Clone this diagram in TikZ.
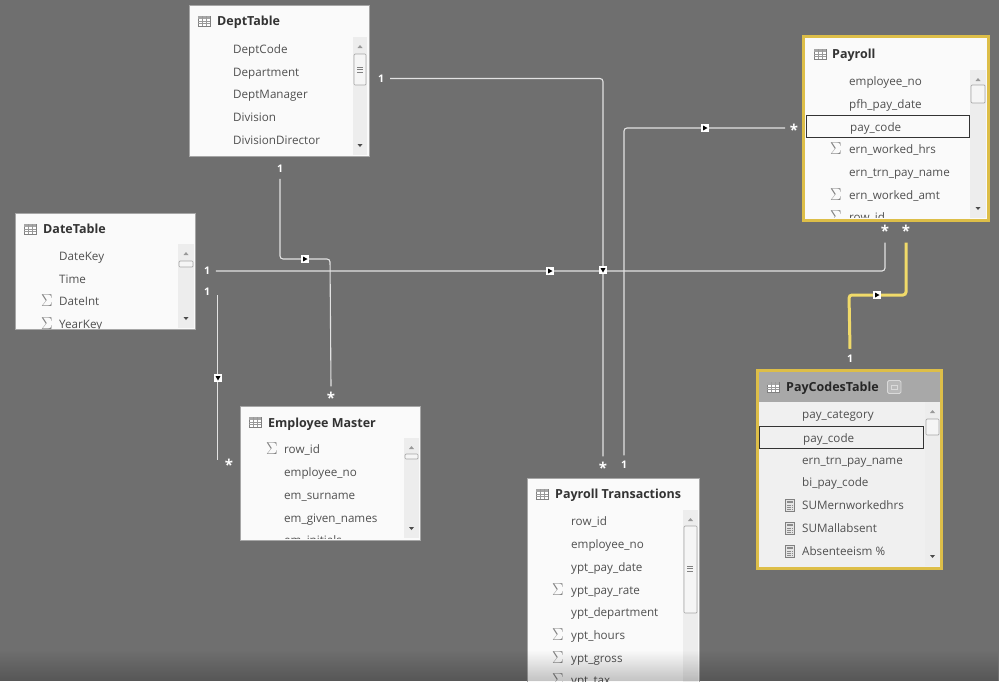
\documentclass[tikz,border=0pt]{standalone}
\usepackage{fontspec}
\setmainfont{Open Sans}
\usepackage{tikz}
\usetikzlibrary{fadings}

\definecolor{canvasgray}{HTML}{6F6F6F}
\definecolor{relwhite}{HTML}{E2E2E2}
\definecolor{relgold}{HTML}{F0DA6A}
\definecolor{activegold}{HTML}{DDBE48}
\definecolor{fieldtext}{HTML}{505050}

\tikzset{
    tablebox/.style={draw=gray!70, fill=white!98!black, line width=0.6pt},
    activebox/.style={draw=activegold, fill=white!98!black, line width=3pt},
    tabletitle/.style={anchor=base west, yshift=-4.5pt, font=\fontsize{12.5}{14}\selectfont\bfseries, text=black!80, inner sep=0pt},
    fieldrow/.style={anchor=base west, yshift=-4.5pt, font=\fontsize{11.65}{14}\selectfont, text=fieldtext, inner sep=0pt},
    sumsign/.style={font=\fontsize{17}{17}\selectfont, text=gray, inner sep=0pt},
    cardmark/.style={font=\fontsize{10.5}{10.5}\selectfont\bfseries, text=white, inner sep=0pt, outer sep=6pt},
    manymark/.style={cardmark, font=\fontsize{15}{15}\selectfont\bfseries, yshift=-3.5pt},
    relline/.style={draw=relwhite, line width=1.1pt, rounded corners=3pt},
    activeline/.style={draw=relgold, line width=3pt, rounded corners=3pt},
    flowright/.style={fill=white, minimum size=8pt, inner sep=0pt, path picture={
        \fill[black, shift={(path picture bounding box.center)}] (-2,-2.5) -- (2.5,0) -- (-2,2.5) -- cycle;}},
    flowdown/.style={fill=white, minimum size=8pt, inner sep=0pt, path picture={
        \fill[black, shift={(path picture bounding box.center)}] (-2.5,-2) -- (2.5,-2) -- (0,2.5) -- cycle;}},
    pickedrow/.style={draw=black!80, line width=0.8pt},
}

\newcommand{\tableicon}[2]{
    \draw[gray, line width=0.5pt, fill=white] (#1-6,#2-5) rectangle (#1+6,#2+5);
    \fill[gray!70] (#1-6,#2-5) rectangle (#1+6,#2-2.5);
    \foreach \dx in {-2,2} {\draw[gray!80, line width=0.4pt] (#1+\dx,#2-5) -- (#1+\dx,#2+5);}
    \foreach \dy in {0,2.5} {\draw[gray!80, line width=0.4pt] (#1-6,#2+\dy) -- (#1+6,#2+\dy);}
}
\newcommand{\calcicon}[2]{
    \draw[gray, line width=0.6pt, fill=gray!20] (#1-4.5,#2-6) rectangle (#1+4.5,#2+6);
    \fill[gray!90] (#1-3,#2-4.5) rectangle (#1+3,#2-2);
    \foreach \dy in {0,2,4} {\draw[gray!90, line width=1pt, dash pattern=on 1.5pt off 0.8pt] (#1-3,#2+\dy) -- (#1+3,#2+\dy);}
}
% x1, x2, top, bottom, thumb top, thumb bottom
\newcommand{\scrollbar}[6]{
    \fill[gray!14] (#1,#3) rectangle (#2,#4);
    \draw[gray!70, fill=gray!8, line width=0.7pt, rounded corners=1pt] (#1+1,#5) rectangle (#2-1,#6);
    \fill[gray!80] ({(#1+#2)/2-2.5},#3+11) -- ({(#1+#2)/2+2.5},#3+11) -- ({(#1+#2)/2},#3+8) -- cycle;
    \fill[black!70] ({(#1+#2)/2-2.5},#4-11) -- ({(#1+#2)/2+2.5},#4-11) -- ({(#1+#2)/2},#4-8) -- cycle;
}

\begin{document}
\begin{tikzpicture}[x=1pt,y=-1pt]
    \useasboundingbox (0,0) rectangle (999,681);
    \fill[canvasgray] (0,0) rectangle (999,681);

    % DeptTable
    \path[tablebox] (189,5.5) rectangle (369,156);
    \tableicon{204}{21}
    \node[tabletitle] (depttitle) at (217,21) {DeptTable};
    \foreach \y/\name in {49/DeptCode,72/Department,94/DeptManager,117/Division,140/DivisionDirector} {
        \node[fieldrow] (dept-\y) at (233,\y) {\name};
    }
    \scrollbar{353}{367}{37}{155}{54}{85}
    \foreach \y in {67,69.5,72} {\draw[gray, line width=0.6pt] (357,\y) -- (363,\y);}

    % DateTable
    \path[tablebox] (15,213) rectangle (195,329.5);
    \tableicon{30}{229}
    \node[tabletitle] (datetitle) at (43,229) {DateTable};
    \begin{scope}
        \clip (16,214) rectangle (194,328);
        \foreach \y/\name in {256/DateKey,279/Time,301/DateInt,324/YearKey} {
            \node[fieldrow] (date-\y) at (59,\y) {\name};
        }
        \foreach \y in {301,324} {\node[sumsign] (datesum-\y) at (47,\y) {$\Sigma$};}
    \end{scope}
    \scrollbar{178}{194}{244}{328}{261}{267}

    % Employee Master
    \path[tablebox] (240.5,406) rectangle (420.5,540);
    \tableicon{255}{422}
    \node[tabletitle] (emptitle) at (268,423) {Employee Master};
    \begin{scope}
        \clip (242,407) rectangle (420,538);
        \foreach \y/\name in {449/row\_id,472/employee\_no,495/em\_surname,518/em\_given\_names,540/em\_initials} {
            \node[fieldrow] (emp-\y) at (284,\y) {\name};
        }
        \node[sumsign] (empsum) at (272,449) {$\Sigma$};
    \end{scope}
    \scrollbar{404}{419}{438}{538}{454}{459}

    % Payroll Transactions
    \path[tablebox] (527.5,478) rectangle (699,700);
    \tableicon{542}{494}
    \node[tabletitle] (transtitle) at (555,494) {Payroll Transactions};
    \foreach \y/\name in {521/row\_id,544/employee\_no,567/ypt\_pay\_date,590/ypt\_pay\_rate,612/ypt\_department,635/ypt\_hours,658/ypt\_gross,680/ypt\_tax} {
        \node[fieldrow] (trans-\y) at (571,\y) {\name};
    }
    \foreach \y in {590,635,658,680} {\node[sumsign] (transsum-\y) at (558,\y) {$\Sigma$};}
    \scrollbar{683}{698}{510}{700}{526}{613}
    \foreach \y in {566,568.5,571} {\draw[gray, line width=0.6pt] (687,\y) -- (693,\y);}

    % Payroll
    \path[activebox] (803.5,36.5) rectangle (988.5,220.5);
    \tableicon{820}{54}
    \node[tabletitle] (paytitle) at (832,54) {Payroll};
    \begin{scope}
        \clip (806,39) rectangle (986,217.5);
        \foreach \y/\name in {81/employee\_no,104/pfh\_pay\_date,149/ern\_worked\_hrs,172/ern\_trn\_pay\_name,195/ern\_worked\_amt,217/row\_id} {
            \node[fieldrow] (pay-\y) at (849,\y) {\name};
        }
        \foreach \y in {149,195,217} {\node[sumsign] (paysum-\y) at (836,\y) {$\Sigma$};}
    \end{scope}
    \node[fieldrow] (paycode) at (850,127) {pay\_code};
    \draw[pickedrow] (806,115.5) rectangle (969.5,137);
    \scrollbar{970}{986}{70}{218}{85}{103}

    % PayCodesTable
    \path[activebox] (757.5,370.5) rectangle (941.5,568.5);
    \fill[gray!12] (759,402) rectangle (940,567);
    \fill[gray!68] (759,372) rectangle (940,402);
    \tableicon{773}{387}
    \node[tabletitle, text=black!85] (codestitle) at (786,387) {PayCodesTable};
    \draw[gray!30, fill=gray!55, line width=0.8pt, rounded corners=1.5pt] (887.5,380.5) rectangle (901,393.5);
    \draw[gray!30, line width=0.6pt] (891,385) rectangle (897.5,389);
    \foreach \y/\name in {414/pay\_category,460/ern\_trn\_pay\_name,482/bi\_pay\_code,505/SUMernworkedhrs,528/SUMallabsent,551/Absenteeism \%} {
        \node[fieldrow] (codes-\y) at (802,\y) {\name};
    }
    \node[fieldrow] (codeskey) at (803,438) {pay\_code};
    \draw[pickedrow, fill=none] (759.5,426) rectangle (923,448);
    \foreach \y in {505,528,551} {\calcicon{790}{\y}}
    \scrollbar{925}{940}{402}{566}{419}{435}

    % cardinality marks
    \node[cardmark] (deptright) at (381,78.5) {1};
    \node[cardmark] (deptbottom) at (280,169) {1};
    \node[cardmark] (dateright) at (207,271) {1};
    \node[cardmark] (datelower) at (207,291.5) {1};
    \node[manymark] (empleft) at (229,461.5) {*};
    \node[manymark] (emptop) at (331,394.5) {*};
    \node[manymark] (transmany) at (603,464.5) {*};
    \node[cardmark] (transone) at (624,465) {1};
    \node[manymark] (payleft) at (794,126.5) {*};
    \node[manymark] (paylow) at (885,227.5) {*};
    \node[manymark] (paygold) at (906,227.5) {*};
    \node[cardmark] (codestop) at (850,358.5) {1};

    \coordinate (deptbend) at (330,259);
    \coordinate (goldbend) at (849,295);
    \coordinate (datestart) at (217.7,295);
    \coordinate (empend) at (217.7,460);
    \coordinate (payarrive) at (785,128);

    % relationships
    \draw[relline] (dateright.east) -| (paylow.south);
    \draw[relline] (deptright.east) -| (transmany.north);
    \draw[relline] (transone.north) |- (payarrive);
    \draw[relline] (deptbottom.south) |- (deptbend) -- (emptop.north);
    \draw[relline] (datestart) -- (empend);
    \draw[activeline] (paygold.south) |- (goldbend) -- (codestop.north);

    \node[flowright] (markdate) at (550,271) {};
    \node[flowdown] (markdept) at (603,270) {};
    \node[flowright] (marktrans) at (705,128) {};
    \node[flowright] (markemp) at (305,259) {};
    \node[flowdown] (marklink) at (218,378) {};
    \node[flowright] (markgold) at (877,295) {};

    % dark band along the lower edge
    \fill[black, fill opacity=0.22, path fading=north] (0,650) rectangle (999,681);
\end{tikzpicture}
\end{document}
